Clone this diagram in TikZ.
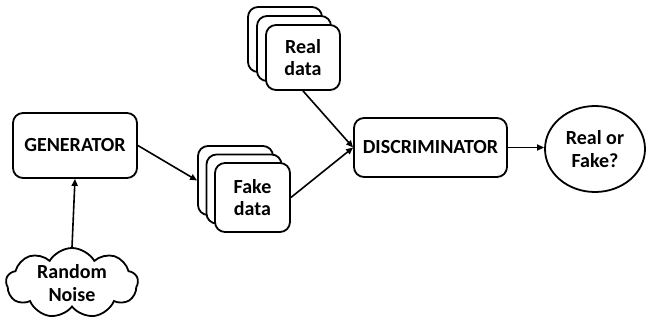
\documentclass[tikz,border=0pt]{standalone}
\usepackage{fontspec}
\setmainfont{Carlito}
\usetikzlibrary{shapes.geometric,shapes.symbols,arrows.meta}
\begin{document}
\begin{tikzpicture}[x=1pt,y=-1pt,
  every node/.style={font=\fontsize{20}{22.5}\selectfont\bfseries, align=center, inner sep=0pt},
  box/.style={draw, line width=1.8pt, rounded corners=10pt, fill=white},
  conn/.style={line width=1.6pt, -{Triangle[length=7pt,width=6pt]}}
]
\useasboundingbox (0,0) rectangle (648,326);
% generator
\node[box, minimum width=124pt, minimum height=65pt] (gen) at (75,145.5) {GENERATOR};
% cloud
\node[draw, cloud, cloud puffs=9, cloud puff arc=120, aspect=2, line width=1.8pt,
      minimum width=132pt, minimum height=70pt] (noise) at (72,283) {Random\\Noise};
% fake data stack
\node[box, minimum width=75pt, minimum height=69pt] (fake3) at (235.5,180.5) {};
\node[box, minimum width=75pt, minimum height=69pt] (fake2) at (244,189) {};
\node[box, minimum width=75pt, minimum height=69pt] (fake1) at (252.5,197.5) {Fake\\data};
% real data stack
\node[box, minimum width=74pt, minimum height=65pt] (real3) at (285,39.5) {};
\node[box, minimum width=74pt, minimum height=65pt] (real2) at (294,48.5) {};
\node[box, minimum width=74pt, minimum height=65pt] (real1) at (303,57.5) {Real\\data};
% discriminator
\node[box, minimum width=153pt, minimum height=59pt] (disc) at (430.5,147.5) {DISCRIMINATOR};
% output
\node[draw, ellipse, line width=1.8pt, minimum width=100pt, minimum height=86pt] (out) at (595,149) {Real or\\Fake?};
% connectors
\draw[conn] (noise.north) -- (gen.south);
\draw[conn] (gen.east) -- (fake3.west);
\draw[conn] (fake1.east) -- (disc.west);
\draw[conn] (real1.south) -- (disc.west);
\draw[conn] (disc.east) -- (disc.east -| out.west);
\end{tikzpicture}
\end{document}
